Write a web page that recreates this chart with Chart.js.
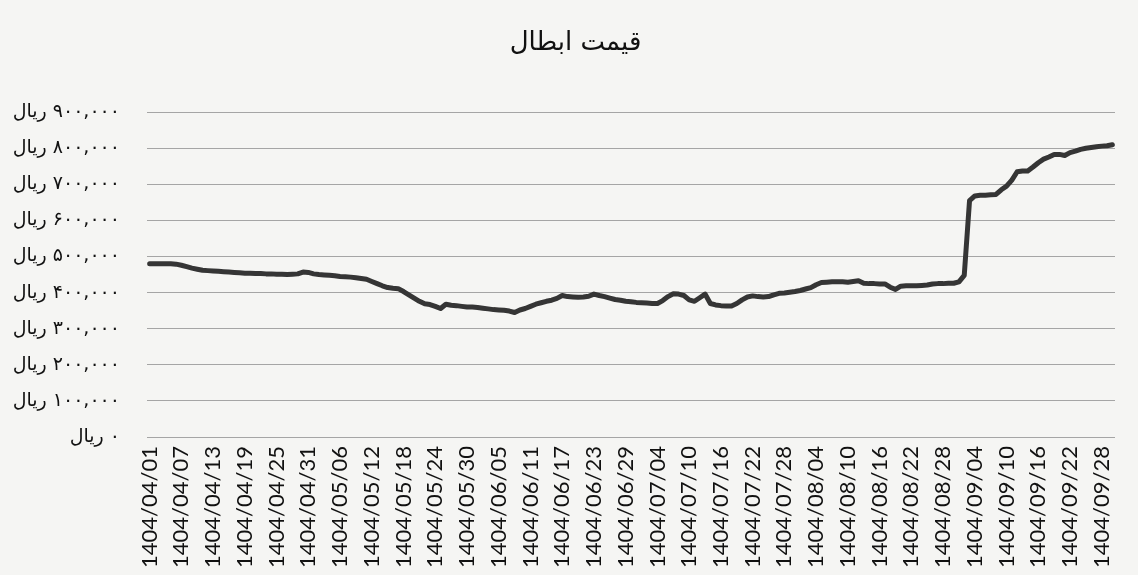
<!DOCTYPE html>
<html>
<head>
<meta charset="utf-8">
<script src="https://cdn.jsdelivr.net/npm/chart.js@4.4.1/dist/chart.umd.min.js"></script>
<style>
  html, body { margin: 0; padding: 0; background: #f5f5f3; }
  #wrap { width: 1138px; height: 575px; position: relative; }
</style>
</head>
<body>
<div id="wrap"><canvas id="priceChart"></canvas></div>
<script>
// Chart title
const chartTitle = "قیمت ابطال";

// Categories: daily dates, 1404/04/01 .. 1404/09/30
const year = 1404;
const months = [4, 5, 6, 7, 8, 9];
const monthDays = [31, 31, 31, 30, 30, 30];
const labelEvery = 6;

// Y axis ticks
const yMin = 0;
const yMax = 900000;
const yStep = 100000;
const currency = "ریال";

// Daily price (rial)
const prices = [
  480000, 480000, 480000, 480000, 480000, 479000, 476000, 472000, 468000, 465000,
  462000, 461000, 460000, 459000, 458000, 457000, 456000, 455000, 454000, 454000,
  453000, 453000, 452000, 452000, 451000, 451000, 450000, 451000, 452000, 457000,
  456000, 452000, 450000, 449000, 448000, 447000, 445000, 444000, 443000, 441000,
  439000, 437000, 431000, 425000, 419000, 414000, 412000, 411000, 403000, 394000,
  385000, 376000, 369000, 367000, 362000, 356000, 368000, 365000, 364000, 362000,
  360000, 360000, 359000, 357000, 355000, 353000, 352000, 351000, 349000, 345000,
  352000, 356000, 362000, 368000, 372000, 376000, 379000, 384000, 392000, 389000,
  388000, 387000, 388000, 390000, 396000, 392000, 389000, 385000, 381000, 379000,
  376000, 375000, 373000, 372000, 371000, 370000, 370000, 378000, 389000, 397000,
  396000, 392000, 380000, 376000, 386000, 396000, 370000, 366000, 364000, 363000,
  363000, 370000, 380000, 388000, 391000, 389000, 388000, 389000, 394000, 398000,
  399000, 401000, 403000, 406000, 410000, 414000, 422000, 428000, 429000, 430000,
  430000, 430000, 429000, 431000, 433000, 426000, 425000, 425000, 424000, 424000,
  415000, 409000, 418000, 419000, 419000, 419000, 420000, 421000, 424000, 425000,
  425000, 426000, 426000, 430000, 448000, 655000, 668000, 670000, 670000, 671000,
  672000, 685000, 695000, 712000, 735000, 737000, 737000, 748000, 760000, 770000,
  776000, 783000, 783000, 780000, 788000, 792000, 797000, 800000, 802000, 804000,
  806000, 807000, 810000
];

const pad = n => String(n).padStart(2, "0");
const dates = [];
months.forEach((m, k) => {
  for (let d = 1; d <= monthDays[k]; d++) dates.push(year + "/" + pad(m) + "/" + pad(d));
});

const faDigits = "۰۱۲۳۴۵۶۷۸۹";
const toFa = s => s.replace(/[0-9]/g, c => faDigits[+c]);
const rialLabel = v => "\u200F" + toFa(v.toLocaleString("en-US")) + " " + currency;

// no extra padding for label overhang, so the plot area sits where the reference has it
const noOverhang = s => {
  s.paddingLeft = 0; s.paddingRight = 0; s.paddingTop = 0; s.paddingBottom = 0;
};

const ctx = document.getElementById("priceChart");
new Chart(ctx, {
  type: "line",
  data: {
    labels: dates,
    datasets: [
      {
        label: chartTitle,
        data: prices,
        borderColor: "#353535",
        borderWidth: 5,
        borderCapStyle: "round",
        borderJoinStyle: "round",
        pointRadius: 0,
        tension: 0,
        fill: false,
      },
    ],
  },
  options: {
    responsive: true,
    maintainAspectRatio: false,
    animation: false,
    layout: { padding: { left: 10, right: 23, top: 0, bottom: 0 } },
    plugins: {
      legend: { display: false },
      tooltip: { enabled: false },
      title: {
        display: true,
        text: "\u2003" + chartTitle,
        color: "#111",
        font: { family: "'DejaVu Sans', 'Liberation Sans', sans-serif", size: 26, weight: "normal" },
        padding: { top: 28, bottom: 53 },
      },
    },
    scales: {
      x: {
        offset: true,
        grid: { display: false, drawTicks: false },
        border: { display: false },
        ticks: {
          autoSkip: false,
          minRotation: 90,
          maxRotation: 90,
          padding: 9,
          color: "#111",
          font: { family: "Lato, 'Open Sans', sans-serif", size: 22 },
          callback: function (val, i) {
            return i % labelEvery === 0 ? this.getLabelForValue(val) : "";
          },
        },
        afterFit: s => { s.height = 138; noOverhang(s); },
      },
      y: {
        min: yMin,
        max: yMax,
        grid: { color: "#a5a5a5", lineWidth: 1, drawTicks: false },
        border: { display: false },
        ticks: {
          stepSize: yStep,
          padding: 27,
          color: "#111",
          font: { family: "'DejaVu Sans', sans-serif", size: 19 },
          callback: v => rialLabel(v),
        },
        afterFit: s => { s.width = 137; noOverhang(s); },
      },
    },
  },
});
</script>
</body>
</html>
